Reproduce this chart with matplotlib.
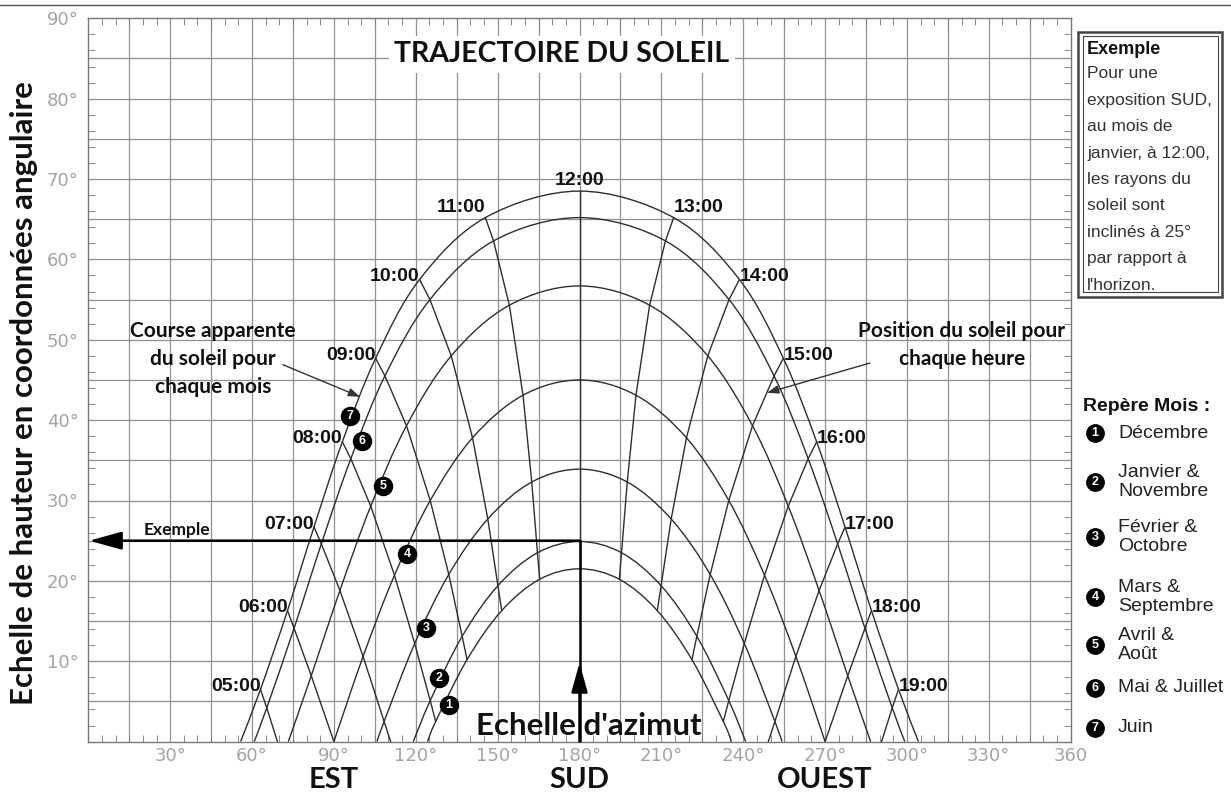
import numpy as np
import matplotlib
matplotlib.use("Agg")
import matplotlib.pyplot as plt
from matplotlib.path import Path
from matplotlib.patches import PathPatch, Rectangle
from matplotlib.lines import Line2D
from matplotlib.ticker import MultipleLocator, FuncFormatter

W, H = 1231, 794
nan = np.nan

plt.rcParams['font.family'] = ['Liberation Sans', 'DejaVu Sans']
CALIBRI = ['Lato', 'DejaVu Sans']

# heures du matin (l'apres-midi est symetrique autour de 180 deg)
hours_am = [5, 6, 7, 8, 9, 10, 11, 12]

az_juin = [63.1, 73.0, 82.7, 93.1, 105.3, 121.4, 145.5, 180.0]
alt_juin = [6.5, 16.3, 26.7, 37.3, 47.7, 57.5, 65.2, 68.5]
az_mai = [65.4, 75.4, 85.4, 96.2, 108.7, 125.2, 148.5, 180.0]
alt_mai = [4.2, 14.1, 24.6, 35.2, 45.5, 55.0, 62.3, 65.2]
az_avril = [nan, 81.7, 92.2, 103.5, 116.6, 133.0, 154.3, 180.0]
alt_avril = [nan, 8.2, 18.8, 29.3, 39.3, 48.0, 54.3, 56.7]
az_mars = [nan, nan, 100.7, 112.2, 125.3, 140.8, 159.3, 180.0]
alt_mars = [nan, nan, 10.6, 20.7, 30.0, 37.8, 43.1, 45.0]
az_fevrier = [nan, nan, 108.4, 119.6, 132.1, 146.4, 162.5, 180.0]
alt_fevrier = [nan, nan, 2.5, 12.2, 20.8, 27.7, 32.3, 33.9]
az_janvier = [nan, nan, nan, 125.3, 137.0, 150.1, 164.6, 180.0]
alt_janvier = [nan, nan, nan, 5.1, 13.1, 19.4, 23.5, 24.9]
az_decembre = [nan, nan, nan, 127.3, 138.8, 151.5, 165.4, 180.0]
alt_decembre = [nan, nan, nan, 2.5, 10.2, 16.3, 20.2, 21.5]

month_az = [az_juin, az_mai, az_avril, az_mars, az_fevrier, az_janvier, az_decembre]
month_alt = [alt_juin, alt_mai, alt_avril, alt_mars, alt_fevrier, alt_janvier, alt_decembre]

# azimut du lever du soleil (hauteur 0) pour chaque courbe
sunrise_az = [55.8, 60.8, 73.3, 90.0, 105.8, 119.1, 124.3]

# ou les lignes horaires rejoignent l'horizon
hour_horizon_az = {5: 69.3, 6: 90.0, 7: 110.8}

# reperes numerotes sur le diagramme (1 = decembre ... 7 = juin)
tag_az = [132.2, 128.5, 123.7, 116.8, 108.0, 100.3, 95.9]
tag_alt = [4.6, 7.9, 14.1, 23.3, 31.8, 37.4, 40.5]

legend_labels = ["Décembre", "Janvier &\nNovembre", "Février &\nOctobre",
                 "Mars &\nSeptembre", "Avril &\nAoût", "Mai & Juillet", "Juin"]
legend_y = [433, 482, 537, 597, 645, 688, 728]

example_az = 180
example_alt = 25
example_lines = ["Pour une", "exposition SUD,", "au mois de", "janvier, à 12:00,",
                 "les rayons du", "soleil sont", "inclinés à 25°", "par rapport à",
                 "l'horizon."]

CURVE = '#2e2e2e'
GRID = '#909090'


def smooth_path(xs, ys):
    # courbe lissee (Catmull-Rom -> Bezier) passant par les points
    pts = np.column_stack([xs, ys])
    n = len(pts)
    verts = [pts[0]]
    codes = [Path.MOVETO]
    for i in range(n - 1):
        p0 = pts[i - 1] if i > 0 else pts[i]
        p1 = pts[i]
        p2 = pts[i + 1]
        p3 = pts[i + 2] if i + 2 < n else pts[i + 1]
        verts += [p1 + (p2 - p0) / 6, p2 - (p3 - p1) / 6, p2]
        codes += [Path.CURVE4] * 3
    return Path(verts, codes)


def fxy(x, y):
    return x / W, 1 - y / H


fig = plt.figure(figsize=(W / 100, H / 100), dpi=100)
ax = fig.add_axes([88.3 / W, 1 - 741.6 / H, (1070.7 - 88.3) / W, (741.6 - 18.3) / H])
ax.set_xlim(0, 360)
ax.set_ylim(0, 90)

# grille
for a in range(15, 360, 15):
    ax.axvline(a, color=GRID, lw=0.9, zorder=0)
for h in range(5, 90, 5):
    ax.axhline(h, color=GRID, lw=0.9, zorder=0)

# courbes mensuelles
for az, alt, rise in zip(month_az, month_alt, sunrise_az):
    az = np.array(az)
    alt = np.array(alt)
    ok = ~np.isnan(az)
    am_az = [rise] + list(az[ok])
    am_alt = [0.0] + list(alt[ok])
    full_az = am_az + [360 - a for a in am_az[-2::-1]]
    full_alt = am_alt + am_alt[-2::-1]
    ax.add_patch(PathPatch(smooth_path(full_az, full_alt), fill=False,
                           edgecolor=CURVE, lw=1.0, zorder=2))

# lignes horaires
for k, hour in enumerate(hours_am):
    xs = [m[k] for m in month_az if not np.isnan(m[k])]
    ys = [m[k] for m in month_alt if not np.isnan(m[k])]
    if hour in hour_horizon_az:
        xs.append(hour_horizon_az[hour])
        ys.append(0.0)
    ax.plot(xs, ys, color=CURVE, lw=1.0, zorder=2)
    if hour != 12:
        ax.plot([360 - v for v in xs], ys, color=CURVE, lw=1.0, zorder=2)

    # etiquettes des heures, pres du point de juin
    x0, y0 = az_juin[k], alt_juin[k]
    for h_lab, xx, side in [(hour, x0, 'right'), (24 - hour, 360 - x0, 'left')]:
        if hour == 12 and side == 'left':
            continue
        ha = 'center' if hour == 12 else side
        va = 'bottom' if hour >= 11 else 'center'
        dy = 2 if hour >= 11 else 3
        ax.annotate(f"{h_lab:02d}:00", (xx, y0), xytext=(0, dy), textcoords='offset pixels',
                    ha=ha, va=va, fontsize=14, weight='bold', color='#111', zorder=4)

# reperes des mois
for n, (a, h) in enumerate(zip(tag_az, tag_alt), start=1):
    ax.plot(a, h, 'o', ms=13, color='black', zorder=5)
    ax.text(a, h, str(n), color='white', fontsize=9, weight='bold',
            ha='center', va='center', zorder=6)

# exemple : fleches
ax.plot([example_az, example_az], [0, example_alt], color='black', lw=1.8, zorder=3)
ax.annotate('', xy=(example_az, 9.8), xytext=(example_az, 0),
            arrowprops=dict(arrowstyle='-|>,head_length=1.8,head_width=0.5', color='black',
                            lw=1.8, shrinkA=0, shrinkB=0), zorder=3)
ax.annotate('', xy=(0.3, example_alt), xytext=(example_az, example_alt),
            arrowprops=dict(arrowstyle='-|>,head_length=2.0,head_width=0.55', color='black',
                            lw=1.8, shrinkA=0, shrinkB=0), zorder=3)
ax.text(32.4, 26.3, "Exemple", ha='center', va='center', fontsize=12.5,
        family=CALIBRI, weight='bold', color='#111')

# textes dans le graphique
ax.text(173.6, 85.5, "TRAJECTOIRE DU SOLEIL", ha='center', va='center', fontsize=20.5,
        family=CALIBRI, weight='bold', color='#111', zorder=5,
        bbox=dict(facecolor='white', edgecolor='none', pad=4))
for i, line in enumerate(["Course apparente", "du soleil pour", "chaque mois"]):
    ax.text(45.7, 51.1 - i * 3.48, line, ha='center', va='center', fontsize=15,
            family=CALIBRI, weight='bold', color='#111')
for i, line in enumerate(["Position du soleil pour", "chaque heure"]):
    ax.text(320.1, 51.1 - i * 3.48, line, ha='center', va='center', fontsize=15,
            family=CALIBRI, weight='bold', color='#111')
ax.annotate('', xy=(99.6, 42.9), xytext=(71.3, 46.9),
            arrowprops=dict(arrowstyle='-|>,head_length=0.7,head_width=0.25', color='#333',
                            lw=1.0, shrinkA=0, shrinkB=0))
ax.annotate('', xy=(248.7, 43.4), xytext=(286.4, 47.1),
            arrowprops=dict(arrowstyle='-|>,head_length=0.7,head_width=0.25', color='#333',
                            lw=1.0, shrinkA=0, shrinkB=0))
ax.text(183.4, 2.0, "Echelle d'azimut", ha='center', va='center', fontsize=22.5,
        family=CALIBRI, weight='bold', color='#111', zorder=4)

# axes et graduations
ax.xaxis.set_major_locator(MultipleLocator(30))
ax.xaxis.set_minor_locator(MultipleLocator(5))
ax.yaxis.set_major_locator(MultipleLocator(10))
ax.yaxis.set_minor_locator(MultipleLocator(2))
ax.xaxis.set_major_formatter(FuncFormatter(
    lambda v, p: '' if v == 0 else ('360' if v == 360 else f"{int(v)}°")))
ax.yaxis.set_major_formatter(FuncFormatter(lambda v, p: '' if v == 0 else f"{int(v)}°"))
ax.tick_params(which='major', length=0, labelsize=13, labelcolor='#a4a4a4')
ax.tick_params(axis='x', which='major', pad=4)
ax.tick_params(axis='y', which='major', pad=7)
ax.tick_params(which='minor', direction='in', length=5, color='#777',
               top=True, right=True, bottom=True, left=True)
for lab in ax.get_xticklabels() + ax.get_yticklabels():
    lab.set_family('DejaVu Sans')
for s in ax.spines.values():
    s.set_color('#777')
    s.set_linewidth(1.0)

for a, name in [(90, "EST"), (180, "SUD"), (270, "OUEST")]:
    ax.text(a, -0.0645, name, transform=ax.get_xaxis_transform(), ha='center',
            va='baseline', fontsize=21, family=CALIBRI, weight='bold', color='#111')

fig.text(*fxy(24, 393), "Echelle de hauteur en coordonnées angulaire", rotation=90,
         ha='center', va='center', fontsize=22.5, family=CALIBRI, weight='bold', color='#111')

# ligne en haut de page
fig.add_artist(Line2D([0, 1], [1 - 5 / H] * 2, color='#555', lw=1.0, transform=fig.transFigure))

# encadre exemple
fig.add_artist(Rectangle(fxy(1078, 297), 144 / W, 265 / H, fill=False, lw=1.8,
                         edgecolor='#444', transform=fig.transFigure))
fig.add_artist(Rectangle(fxy(1082.5, 292.5), 135 / W, 256 / H, fill=False, lw=0.8,
                         edgecolor='#444', transform=fig.transFigure))
fig.text(*fxy(1087, 50), "Exemple", ha='left', va='center', fontsize=13, weight='bold',
         color='#111')
for i, line in enumerate(example_lines):
    fig.text(*fxy(1087, 74 + i * 26.4), line, ha='left', va='center', fontsize=12.5,
             color='#333')

# legende des mois
fig.text(*fxy(1083, 407), "Repère Mois :", ha='left', va='center', fontsize=14,
         weight='bold', color='#111')
for n, (lab, y) in enumerate(zip(legend_labels, legend_y), start=1):
    fig.add_artist(Line2D([1095 / W], [1 - y / H], marker='o', ms=12.5, color='black',
                          transform=fig.transFigure))
    fig.text(*fxy(1095, y), str(n), ha='center', va='center', fontsize=9, weight='bold',
             color='white')
    fig.text(*fxy(1118, y), lab, ha='left', va='center', fontsize=14, color='#222',
             linespacing=1.15)

fig.savefig("out.png", dpi=100, facecolor='white')
